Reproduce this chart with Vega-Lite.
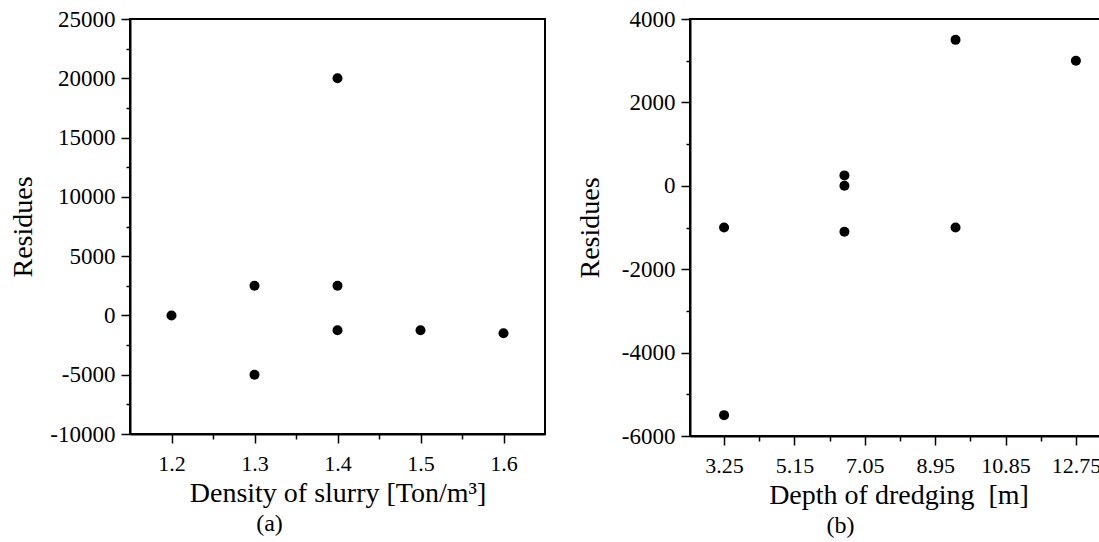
{
  "$schema": "https://vega.github.io/schema/vega-lite/v6.json",
  "background": "white",
  "padding": {"left": 8, "top": 7, "right": 0, "bottom": 0},
  "spacing": 29,
  "datasets": {
    "density": [
      {"density": 1.2, "residue": 0},
      {"density": 1.3, "residue": 2500},
      {"density": 1.3, "residue": -5000},
      {"density": 1.4, "residue": 20000},
      {"density": 1.4, "residue": 2500},
      {"density": 1.4, "residue": -1250},
      {"density": 1.5, "residue": -1250},
      {"density": 1.6, "residue": -1500}
    ],
    "depth": [
      {"depth": 3.25, "residue": -1000},
      {"depth": 3.25, "residue": -5500},
      {"depth": 6.5, "residue": 250},
      {"depth": 6.5, "residue": 0},
      {"depth": 6.5, "residue": -1100},
      {"depth": 9.5, "residue": 3500},
      {"depth": 9.5, "residue": -1000},
      {"depth": 12.75, "residue": 3000}
    ]
  },
  "hconcat": [
    {
      "width": 415,
      "height": 415,
      "data": {"name": "density"},
      "title": {"text": "(a)", "orient": "bottom", "anchor": "middle", "dx": -68, "offset": 5},
      "mark": {"type": "point", "shape": "circle", "filled": true, "color": "black", "size": 100, "opacity": 1},
      "encoding": {
        "x": {
          "field": "density", "type": "quantitative",
          "scale": {"domain": [1.15, 1.65], "nice": false, "zero": false},
          "axis": {
            "title": "Density of slurry [Ton/m³]",
            "labelFont": "Liberation Serif", "labelFontSize": 22, "labelPadding": 10, "titlePadding": 5,
            "values": [1.2, 1.25, 1.3, 1.35, 1.4, 1.45, 1.5, 1.55, 1.6],
            "labelExpr": "abs(datum.value*10 - round(datum.value*10)) > 0.1 ? '' : format(datum.value, '.1f')",
            "tickSize": {"condition": {"test": "abs(datum.value*10 - round(datum.value*10)) > 0.1", "value": 5}, "value": 9}
          }
        },
        "y": {
          "field": "residue", "type": "quantitative",
          "scale": {"domain": [-10000, 25000], "nice": false, "zero": false},
          "axis": {
            "title": "Residues",
            "labelFont": "Liberation Serif", "labelFontSize": 23, "labelPadding": 6, "titlePadding": 12,
            "values": [-10000, -7500, -5000, -2500, 0, 2500, 5000, 7500, 10000, 12500, 15000, 17500, 20000, 22500, 25000],
            "labelExpr": "datum.value % 5000 != 0 ? '' : '' + datum.value",
            "tickSize": {"condition": {"test": "datum.value % 5000 != 0", "value": 4}, "value": 9}
          }
        }
      }
    },
    {
      "width": 417,
      "height": 417,
      "data": {"name": "depth"},
      "title": {"text": "(b)", "orient": "bottom", "anchor": "middle", "dx": -58, "offset": 5},
      "mark": {"type": "point", "shape": "circle", "filled": true, "color": "black", "size": 100, "opacity": 1},
      "encoding": {
        "x": {
          "field": "depth", "type": "quantitative",
          "scale": {"domain": [2.33, 13.59], "nice": false, "zero": false},
          "axis": {
            "title": "Depth of dredging \u00a0[m]",
            "labelFont": "Liberation Serif", "labelFontSize": 22, "labelPadding": 10, "titlePadding": 5,
            "values": [3.25, 4.2, 5.15, 6.1, 7.05, 8.0, 8.95, 9.9, 10.85, 11.8, 12.75],
            "labelExpr": "abs((datum.value - 3.25)/1.9 - round((datum.value - 3.25)/1.9)) > 0.1 ? '' : format(datum.value, '.2f')",
            "tickSize": {"condition": {"test": "abs((datum.value - 3.25)/1.9 - round((datum.value - 3.25)/1.9)) > 0.1", "value": 5}, "value": 9}
          }
        },
        "y": {
          "field": "residue", "type": "quantitative",
          "scale": {"domain": [-6000, 4000], "nice": false, "zero": false},
          "axis": {
            "title": "Residues",
            "labelFont": "Liberation Serif", "labelFontSize": 23, "labelPadding": 6, "titlePadding": 17,
            "values": [-6000, -5000, -4000, -3000, -2000, -1000, 0, 1000, 2000, 3000, 4000],
            "labelExpr": "datum.value % 2000 != 0 ? '' : '' + datum.value",
            "tickSize": {"condition": {"test": "datum.value % 2000 != 0", "value": 4}, "value": 9}
          }
        }
      }
    }
  ],
  "config": {
    "font": "Liberation Serif",
    "view": {"stroke": "black", "strokeWidth": 2},
    "title": {"font": "Liberation Serif", "fontSize": 24, "fontWeight": "normal", "color": "black"},
    "axis": {
      "grid": false,
      "domainColor": "black",
      "domainWidth": 2,
      "tickColor": "black",
      "tickWidth": 1.5,
      "labelColor": "black",
      "labelOverlap": false,
      "labelFlush": false,
      "titleFont": "Liberation Serif",
      "titleFontSize": 28,
      "titleFontWeight": "normal",
      "titleColor": "black"
    }
  }
}
